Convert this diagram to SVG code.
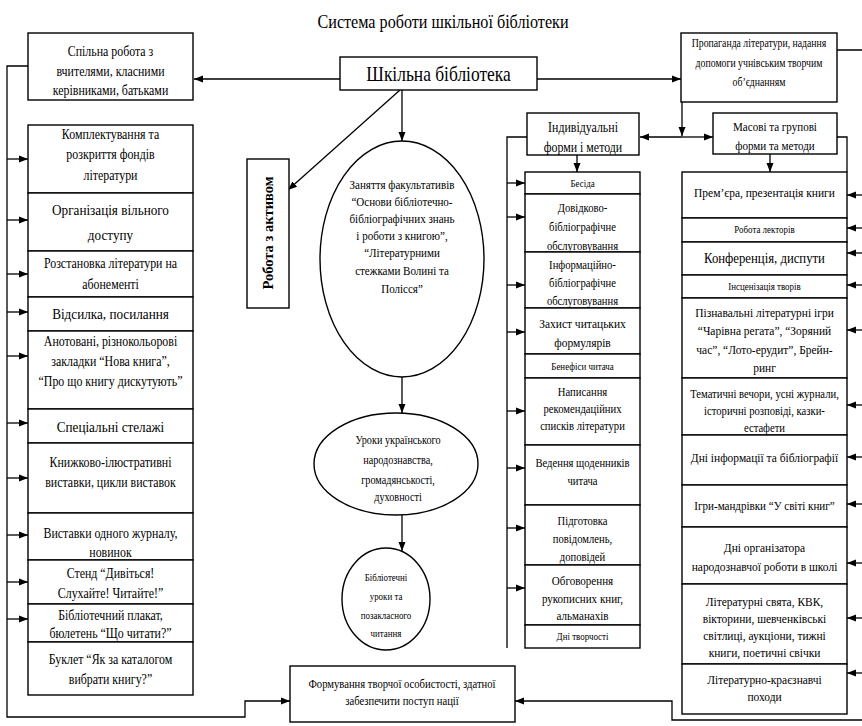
<svg xmlns="http://www.w3.org/2000/svg" width="862" height="726" viewBox="0 0 862 726">
<style>
.b{fill:#fff;stroke:#000;stroke-width:1.4}
.t{font-family:"Liberation Serif","DejaVu Serif","Times New Roman",serif;text-anchor:middle;fill:#000}
.c{fill:none;stroke:#000;stroke-width:1.3}
.a{marker-end:url(#ar)}
</style>
<defs>
<marker id="ar" markerUnits="userSpaceOnUse" markerWidth="10" markerHeight="8" refX="9" refY="4" orient="auto"><path d="M0,0.5 L9,4 L0,7.5 z" fill="#000"/></marker>
</defs>
<rect width="862" height="726" fill="#fff"/>

<g id="title"><text class="t" font-size="19" transform="translate(443 0) scale(.85 1)"><tspan x="0" y="28">Система роботи шкільної бібліотеки</tspan></text></g>

<g id="connectors">
<path class="c a" d="M340,79 H194"/>
<path class="c a" d="M537,79 H681"/>
<path class="c a" d="M402,90 V141"/>
<path class="c a" d="M400,90 L288,190"/>
<path class="c a" d="M402,377 V413"/>
<path class="c a" d="M402,515 V551"/>
<path class="c a" d="M28,66 H7 V717 H245 V701 H290"/>
<path class="c a" d="M7,159 H28"/>
<path class="c a" d="M7,220 H28"/>
<path class="c a" d="M7,274 H28"/>
<path class="c a" d="M7,312 H28"/>
<path class="c a" d="M7,356 H28"/>
<path class="c a" d="M7,423 H28"/>
<path class="c a" d="M7,478 H28"/>
<path class="c a" d="M7,535 H28"/>
<path class="c a" d="M7,582 H28"/>
<path class="c a" d="M7,619 H28"/>
<path class="c a" d="M837,50 H863 V720 H672 V701 H515"/>
<path class="c a" d="M862,195 H847"/>
<path class="c a" d="M862,228 H847"/>
<path class="c a" d="M862,253 H847"/>
<path class="c a" d="M862,285 H847"/>
<path class="c a" d="M862,330 H847"/>
<path class="c a" d="M862,405 H847"/>
<path class="c a" d="M862,457 H847"/>
<path class="c a" d="M862,504 H847"/>
<path class="c a" d="M862,563 H847"/>
<path class="c a" d="M862,618 H847"/>
<path class="c a" d="M862,673 H847"/>
<path class="c a" d="M682,102 V136"/>
<path class="c a" d="M682,137 H640"/>
<path class="c a" d="M682,137 H713"/>
<path class="c a" d="M577,155 V172"/>
<path class="c a" d="M770,154 V172"/>
<path class="c" d="M527,137 H507 V648"/>
<path class="c a" d="M507,183 H525"/>
<path class="c a" d="M507,217 H525"/>
<path class="c a" d="M507,285 H525"/>
<path class="c a" d="M507,332 H525"/>
<path class="c a" d="M507,411 H525"/>
<path class="c a" d="M507,468 H525"/>
<path class="c a" d="M507,528 H525"/>
<path class="c a" d="M507,588 H525"/>
<path class="c" d="M837,137 H847 V172"/>
</g>

<g id="main"><rect class="b" x="340" y="57" width="197" height="33"/>
<text class="t" font-size="20.5" transform="translate(438.5 0) scale(.85 1)"><tspan x="0" y="81">Шкільна бібліотека</tspan></text></g>

<g id="spilna"><rect class="b" x="28" y="33" width="165" height="67"/>
<text class="t" font-size="14" transform="translate(110.5 0) scale(.85 1)"><tspan x="0" y="56">Спільна робота з</tspan><tspan x="0" y="76">вчителями, класними</tspan><tspan x="0" y="95">керівниками, батьками</tspan></text></g>

<g id="propaganda"><rect class="b" x="681" y="33" width="156" height="69"/>
<text class="t" font-size="11.5" transform="translate(759 0) scale(.85 1)"><tspan x="0" y="47">Пропаганда літератури, надання</tspan><tspan x="0" y="67">допомоги учнівським творчим</tspan><tspan x="0" y="86">об’єднанням</tspan></text></g>

<g id="aktyv"><rect class="b" x="247" y="159" width="42" height="149"/>
<text class="t" font-size="14.5" font-weight="bold" transform="translate(273 233) rotate(-90)"><tspan x="0" y="0">Робота з активом</tspan></text></g>

<g id="fakult"><ellipse class="b" cx="402" cy="259" rx="82" ry="118"/>
<text class="t" font-size="13" transform="translate(402 0) scale(.85 1)"><tspan x="0" y="189">Заняття факультативів</tspan><tspan x="0" y="206">“Основи бібліотечно-</tspan><tspan x="0" y="223">бібліографічних знань</tspan><tspan x="0" y="240">і роботи з книгою”,</tspan><tspan x="0" y="257">“Літературними</tspan><tspan x="0" y="275">стежками Волині та</tspan><tspan x="0" y="293">Полісся”</tspan></text></g>

<g id="uroky"><ellipse class="b" cx="396" cy="464" rx="82" ry="51"/>
<text class="t" font-size="12" transform="translate(398 0) scale(.85 1)"><tspan x="0" y="444">Уроки українського</tspan><tspan x="0" y="464">народознавства,</tspan><tspan x="0" y="484">громадянськості,</tspan><tspan x="0" y="501">духовності</tspan></text></g>

<g id="bibl-uroky"><ellipse class="b" cx="386" cy="599" rx="44" ry="51"/>
<text class="t" font-size="10.5" transform="translate(386 0) scale(.85 1)"><tspan x="0" y="581">Бібліотечні</tspan><tspan x="0" y="600">уроки та</tspan><tspan x="0" y="619">позакласного</tspan><tspan x="0" y="637">читання</tspan></text></g>

<g id="formuvannia"><rect class="b" x="290" y="666" width="225" height="56"/>
<text class="t" font-size="12.5" transform="translate(402 0) scale(.85 1)"><tspan x="0" y="688">Формування творчої особистості, здатної</tspan><tspan x="0" y="705">забезпечити поступ нації</tspan></text></g>

<g id="left-list">
<g id="l1"><rect class="b" x="28" y="125" width="165" height="68"/><text class="t" font-size="14" transform="translate(110.5 0) scale(.85 1)"><tspan x="0" y="139">Комплектування та</tspan><tspan x="0" y="159">розкриття фондів</tspan><tspan x="0" y="180">літератури</tspan></text></g>
<g id="l2"><rect class="b" x="28" y="193" width="165" height="58"/><text class="t" font-size="15.5" transform="translate(110.5 0) scale(.85 1)"><tspan x="0" y="215">Організація вільного</tspan><tspan x="0" y="240">доступу</tspan></text></g>
<g id="l3"><rect class="b" x="28" y="251" width="165" height="46"/><text class="t" font-size="14" transform="translate(110.5 0) scale(.85 1)"><tspan x="0" y="268">Розстановка літератури на</tspan><tspan x="0" y="289">абонементі</tspan></text></g>
<g id="l4"><rect class="b" x="28" y="297" width="165" height="34"/><text class="t" font-size="15.5" transform="translate(110.5 0) scale(.85 1)"><tspan x="0" y="319">Відсилка, посилання</tspan></text></g>
<g id="l5"><rect class="b" x="28" y="331" width="165" height="78"/><text class="t" font-size="14" transform="translate(110.5 0) scale(.85 1)"><tspan x="0" y="346">Анотовані, різнокольорові</tspan><tspan x="0" y="366">закладки “Нова книга”,</tspan><tspan x="0" y="386">“Про що книгу дискутують”</tspan></text></g>
<g id="l6"><rect class="b" x="28" y="409" width="165" height="34"/><text class="t" font-size="15.5" transform="translate(110.5 0) scale(.85 1)"><tspan x="0" y="432">Спеціальні стелажі</tspan></text></g>
<g id="l7"><rect class="b" x="28" y="443" width="165" height="70"/><text class="t" font-size="14" transform="translate(110.5 0) scale(.85 1)"><tspan x="0" y="467">Книжково-ілюстративні</tspan><tspan x="0" y="487">виставки, цикли виставок</tspan></text></g>
<g id="l8"><rect class="b" x="28" y="513" width="165" height="47"/><text class="t" font-size="14" transform="translate(110.5 0) scale(.85 1)"><tspan x="0" y="538">Виставки одного журналу,</tspan><tspan x="0" y="557">новинок</tspan></text></g>
<g id="l9"><rect class="b" x="28" y="560" width="165" height="44"/><text class="t" font-size="14" transform="translate(110.5 0) scale(.85 1)"><tspan x="0" y="578">Стенд “Дивіться!</tspan><tspan x="0" y="598">Слухайте! Читайте!”</tspan></text></g>
<g id="l10"><rect class="b" x="28" y="604" width="165" height="38"/><text class="t" font-size="14" transform="translate(110.5 0) scale(.85 1)"><tspan x="0" y="620">Бібліотечний плакат,</tspan><tspan x="0" y="638">бюлетень “Що читати?”</tspan></text></g>
<g id="l11"><rect class="b" x="28" y="642" width="165" height="53"/><text class="t" font-size="14" transform="translate(110.5 0) scale(.85 1)"><tspan x="0" y="664">Буклет “Як за каталогом</tspan><tspan x="0" y="684">вибрати книгу?”</tspan></text></g>
</g>

<g id="indiv-head"><rect class="b" x="527" y="113" width="112" height="42"/>
<text class="t" font-size="14" transform="translate(583 0) scale(.85 1)"><tspan x="0" y="132">Індивідуальні</tspan><tspan x="0" y="152">форми і методи</tspan></text></g>

<g id="masovi-head"><rect class="b" x="713" y="113" width="124" height="41"/>
<text class="t" font-size="13" transform="translate(775 0) scale(.85 1)"><tspan x="0" y="131">Масові та групові</tspan><tspan x="0" y="150">форми та методи</tspan></text></g>

<g id="indiv-list">
<g id="i1"><rect class="b" x="525" y="172" width="115" height="22"/><text class="t" font-size="10.5" transform="translate(582.5 0) scale(.85 1)"><tspan x="0" y="187">Бесіда</tspan></text></g>
<g id="i2"><rect class="b" x="525" y="194" width="115" height="58"/><text class="t" font-size="12.5" transform="translate(582.5 0) scale(.85 1)"><tspan x="0" y="212">Довідково-</tspan><tspan x="0" y="231">бібліографічне</tspan><tspan x="0" y="250">обслуговування</tspan></text></g>
<g id="i3"><rect class="b" x="525" y="252" width="115" height="56"/><text class="t" font-size="12.5" transform="translate(582.5 0) scale(.85 1)"><tspan x="0" y="269">Інформаційно-</tspan><tspan x="0" y="287">бібліографічне</tspan><tspan x="0" y="305">обслуговування</tspan></text></g>
<g id="i4"><rect class="b" x="525" y="308" width="115" height="46"/><text class="t" font-size="13.5" transform="translate(582.5 0) scale(.85 1)"><tspan x="0" y="328">Захист читацьких</tspan><tspan x="0" y="347">формулярів</tspan></text></g>
<g id="i5"><rect class="b" x="525" y="354" width="115" height="24"/><text class="t" font-size="10.5" transform="translate(582.5 0) scale(.85 1)"><tspan x="0" y="370">Бенефіси читача</tspan></text></g>
<g id="i6"><rect class="b" x="525" y="378" width="115" height="67"/><text class="t" font-size="12.5" transform="translate(582.5 0) scale(.85 1)"><tspan x="0" y="396">Написання</tspan><tspan x="0" y="413">рекомендаційних</tspan><tspan x="0" y="430">списків літератури</tspan></text></g>
<g id="i7"><rect class="b" x="525" y="445" width="115" height="60"/><text class="t" font-size="12.5" transform="translate(582.5 0) scale(.85 1)"><tspan x="0" y="467">Ведення щоденників</tspan><tspan x="0" y="485">читача</tspan></text></g>
<g id="i8"><rect class="b" x="525" y="505" width="115" height="60"/><text class="t" font-size="12.5" transform="translate(582.5 0) scale(.85 1)"><tspan x="0" y="525">Підготовка</tspan><tspan x="0" y="543">повідомлень,</tspan><tspan x="0" y="561">доповідей</tspan></text></g>
<g id="i9"><rect class="b" x="525" y="565" width="115" height="60"/><text class="t" font-size="13" transform="translate(582.5 0) scale(.85 1)"><tspan x="0" y="585">Обговорення</tspan><tspan x="0" y="603">рукописних книг,</tspan><tspan x="0" y="620">альманахів</tspan></text></g>
<g id="i10"><rect class="b" x="525" y="625" width="115" height="23"/><text class="t" font-size="10.5" transform="translate(582.5 0) scale(.85 1)"><tspan x="0" y="640">Дні творчості</tspan></text></g>
</g>

<g id="masovi-list">
<g id="m1"><rect class="b" x="682" y="172" width="165" height="46"/><text class="t" font-size="13.5" transform="translate(764.5 0) scale(.85 1)"><tspan x="0" y="197">Прем’єра, презентація книги</tspan></text></g>
<g id="m2"><rect class="b" x="682" y="218" width="165" height="24"/><text class="t" font-size="10.5" transform="translate(764.5 0) scale(.85 1)"><tspan x="0" y="233">Робота лекторів</tspan></text></g>
<g id="m3"><rect class="b" x="682" y="242" width="165" height="33"/><text class="t" font-size="15" transform="translate(764.5 0) scale(.85 1)"><tspan x="0" y="263">Конференція, диспути</tspan></text></g>
<g id="m4"><rect class="b" x="682" y="275" width="165" height="23"/><text class="t" font-size="10.5" transform="translate(764.5 0) scale(.85 1)"><tspan x="0" y="290">Інсценізація творів</tspan></text></g>
<g id="m5"><rect class="b" x="682" y="298" width="165" height="80"/><text class="t" font-size="13.5" transform="translate(764.5 0) scale(.85 1)"><tspan x="0" y="317">Пізнавальні літературні ігри</tspan><tspan x="0" y="335">“Чарівна регата”, “Зоряний</tspan><tspan x="0" y="354">час”, “Лото-ерудит”, Брейн-</tspan><tspan x="0" y="372">ринг</tspan></text></g>
<g id="m6"><rect class="b" x="682" y="378" width="165" height="57"/><text class="t" font-size="12.5" transform="translate(764.5 0) scale(.85 1)"><tspan x="0" y="398">Тематичні вечори, усні журнали,</tspan><tspan x="0" y="415">історичні розповіді, казки-</tspan><tspan x="0" y="432">естафети</tspan></text></g>
<g id="m7"><rect class="b" x="682" y="435" width="165" height="50"/><text class="t" font-size="13.5" transform="translate(764.5 0) scale(.85 1)"><tspan x="0" y="462">Дні інформації та бібліографії</tspan></text></g>
<g id="m8"><rect class="b" x="682" y="485" width="165" height="42"/><text class="t" font-size="13" transform="translate(764.5 0) scale(.85 1)"><tspan x="0" y="510">Ігри-мандрівки “У світі книг”</tspan></text></g>
<g id="m9"><rect class="b" x="682" y="527" width="165" height="57"/><text class="t" font-size="13.5" transform="translate(764.5 0) scale(.85 1)"><tspan x="0" y="552">Дні організатора</tspan><tspan x="0" y="571">народознавчої роботи в школі</tspan></text></g>
<g id="m10"><rect class="b" x="682" y="584" width="165" height="80"/><text class="t" font-size="13.5" transform="translate(764.5 0) scale(.85 1)"><tspan x="0" y="606">Літературні свята, КВК,</tspan><tspan x="0" y="623">вікторини, шевченківські</tspan><tspan x="0" y="640">світлиці, аукціони, тижні</tspan><tspan x="0" y="657">книги, поетичні свічки</tspan></text></g>
<g id="m11"><rect class="b" x="682" y="664" width="165" height="50"/><text class="t" font-size="13.5" transform="translate(764.5 0) scale(.85 1)"><tspan x="0" y="684">Літературно-краєзнавчі</tspan><tspan x="0" y="701">походи</tspan></text></g>
</g>
</svg>
